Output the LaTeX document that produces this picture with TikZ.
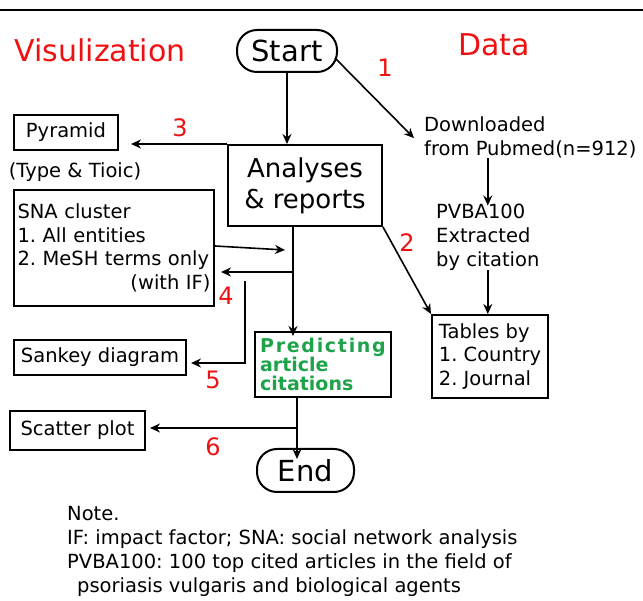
\documentclass[tikz,border=0pt]{standalone}
\usepackage{fontspec}
\setmainfont{DejaVu Sans}
\newfontfamily\predfont{DejaVu Sans Bold}
\usetikzlibrary{arrows.meta,positioning,calc}
\definecolor{lblred}{HTML}{EE1111}
\definecolor{predgreen}{HTML}{1FA34A}
\tikzset{
  block/.style   = {draw, line width=2pt, rectangle, align=left, inner sep=0pt,
                    font=\fontsize{19.5}{23.5}\selectfont},
  bigblock/.style= {block, align=center, font=\fontsize{26}{31}\selectfont},
  terminal/.style= {bigblock, rounded corners=20pt, font=\fontsize{29}{34}\selectfont},
  plain/.style   = {align=left, inner sep=0pt, font=\fontsize{19.5}{24}\selectfont},
  head/.style    = {text=lblred, inner sep=0pt, font=\fontsize{30}{35}\selectfont},
  step num/.style= {text=lblred, inner sep=0pt, font=\fontsize{24}{30}\selectfont},
  sig/.style     = {-{Stealth[length=10pt,width=9pt]}, line width=1.6pt},
}
\begin{document}
\frenchspacing
\begin{tikzpicture}[x=1pt,y=-1pt]
\useasboundingbox (0,0) rectangle (643,601);
% top rule
\draw[line width=2.5pt] (0,10) -- (643,10);
% headings
\node[head] (vis) at (100,50) {Visulization};
\node[head] (data) at (494,45) {Data};
% flow
\node[terminal, minimum width=100pt, minimum height=42pt] (start) at (287,51) {Start};
\node[bigblock, minimum width=154pt, minimum height=81pt] (ana) at (305,185.5) {Analyses\\\& reports};
\node[terminal, minimum width=97pt, minimum height=43pt] (endn) at (305.5,470.5) {End};
\node[block, minimum width=132pt, minimum height=65pt, text=predgreen, inner xsep=5pt,
      font=\predfont\fontsize{19}{19}\selectfont] (pred) at (323,364.5)
      {\addfontfeature{LetterSpace=9}Predicting\\article\\citations};
% data side
\node[plain, anchor=west] (dl) at (424,137) {Downloaded\\from Pubmed(n=912)};
\node[plain, anchor=west] (pv) at (436,237) {PVBA100\\Extracted\\by citation};
\node[block, minimum width=116pt, minimum height=83pt, inner xsep=4pt] (tab) at (490,356.5)
      {Tables by\\1. Country\\2. Journal};
% visualisation side
\node[block, minimum width=104pt, minimum height=35pt, align=center] (pyr) at (66,132.5) {Pyramid};
\node[plain] (type) at (75,172) {(Type \& Tioic)};
\node[block, minimum width=200pt, minimum height=116pt, text width=193pt] (sna) at (114,248)
      {SNA cluster\\1. All entities\\2. MeSH terms only\\\hspace*{\fill}(with IF)};
\node[block, minimum width=172pt, minimum height=35pt, align=center] (sank) at (100,357.5) {Sankey diagram};
\node[block, minimum width=135pt, minimum height=39pt, align=center] (scat) at (77.5,430.5) {Scatter plot};
% note
\node[plain, anchor=north west] (note) at (67,506)
      {Note.\\IF: impact factor; SNA: social network analysis\\PVBA100: 100 top cited articles in the field of\\\hspace*{10pt}psoriasis vulgaris and biological agents};
% step numbers
\node[step num] (n1) at (385,68) {1};
\node[step num] (n2) at (407,243) {2};
\node[step num] (n3) at (180,128) {3};
\node[step num] (n4) at (226,296) {4};
\node[step num] (n5) at (213,380) {5};
\node[step num] (n6) at (213,447) {6};
% connectors
\coordinate (trunk) at ([xshift=-12pt]ana.south);
\coordinate (b4) at (trunk |- 0,272);
\coordinate (b5) at (245,281);
\coordinate (b6) at (297,428);
\draw[sig] (start.south) -- (start.south |- ana.north);
\draw[sig] ([xshift=-3pt,yshift=-7pt]start.east) -- ([xshift=-10pt,yshift=-22pt]dl.north west);
\draw[sig] (dl.south -| pv.north) -- ([yshift=-2pt]pv.north);
\draw[sig] (pv.south) -- (pv.south |- tab.north);
\draw[sig] (ana.south east) -- (tab.north west);
\draw[sig] (ana.north west) -- ([xshift=12pt]pyr.east |- ana.north west);
\draw[sig] (trunk) -- ([yshift=-5pt]trunk |- pred.north);
\draw[sig] ([yshift=2pt]sna.east) -- ([xshift=-8pt]trunk |- 0,250);
\draw[sig] (b4) -- ([xshift=6pt]sna.east |- b4);
\draw[sig] (b5) -- (b5 |- 0,363) -- ([xshift=4pt]sank.east |- 0,363);
\draw[sig] (pred.south -| b6) -- ([yshift=-11pt]b6 |- endn.north);
\draw[sig] (b6) -- ([xshift=4pt]scat.east |- b6);
\end{tikzpicture}
\end{document}
